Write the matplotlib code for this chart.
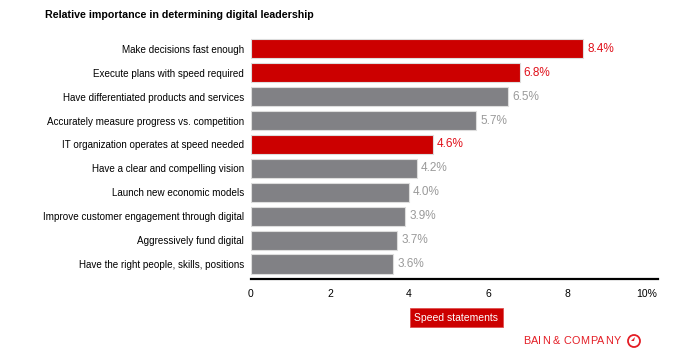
import matplotlib.pyplot as plt
from matplotlib.patches import Ellipse, Polygon

plt.rcParams['font.family'] = ['Liberation Sans', 'DejaVu Sans']

# Daten
labels = ['Make decisions fast enough',
          'Execute plans with speed required',
          'Have differentiated products and services',
          'Accurately measure progress vs. competition',
          'IT organization operates at speed needed',
          'Have a clear and compelling vision',
          'Launch new economic models',
          'Improve customer engagement through digital',
          'Aggressively fund digital',
          'Have the right people, skills, positions']
values = [8.4, 6.8, 6.5, 5.7, 4.6, 4.2, 4.0, 3.9, 3.7, 3.6]
speed = [True, True, False, False, True, False, False, False, False, False]
ticks = [0, 2, 4, 6, 8, 10]
tick_labels = ['0', '2', '4', '6', '8', '10%']

red = '#cc0000'
gray = '#818185'
logo_red = '#e41e26'

fig = plt.figure(figsize=(6.8, 3.55), dpi=100)
ax = fig.add_axes([0.369, 0.214, 0.599, 0.682])

ypos = list(range(len(values)))
colors = [red if s else gray for s in speed]
ax.barh(ypos, values, height=0.8, color=colors, edgecolor='#dddddd', linewidth=0.8)

for y, v, s in zip(ypos, values, speed):
    ax.text(v + 0.1, y, f'{v:.1f}%', va='center', ha='left', fontsize=8.5,
            color='#e0101a' if s else '#9a9a9a')

ax.set_ylim(9.63, -0.5)
ax.set_xlim(0, 10.3)
ax.set_yticks(ypos)
ax.set_yticklabels(labels, fontsize=7.1)
ax.set_xticks(ticks)
ax.set_xticklabels(tick_labels, fontsize=7.5)
ax.tick_params(axis='y', length=0, pad=5)
ax.tick_params(axis='x', length=0, pad=7)
for side in ['top', 'right', 'left']:
    ax.spines[side].set_visible(False)
ax.spines['bottom'].set_linewidth(1.6)

fig.text(0.066, 0.958, 'Relative importance in determining digital leadership',
         fontsize=7.7, fontweight='bold', va='center', ha='left')

# Legende
fig.text(0.671, 0.105, 'Speed statements', fontsize=7.5, color='white',
         ha='center', va='center',
         bbox=dict(boxstyle='square,pad=0.45', facecolor=red, edgecolor='#e05050', linewidth=0.6))

# Logo: Buchstaben einzeln setzen, damit der Abstand stimmt
logo = 'BAIN & COMPANY'
renderer = fig.canvas.get_renderer()
x = 523
for ch in logo:
    t = fig.text(x / 680, 1 - 341 / 355, ch, fontsize=7.8, color=logo_red,
                 ha='left', va='center', fontweight='medium')
    w = t.get_window_extent(renderer).width if ch != ' ' else 2.5
    x += w + 0.4
cx, cy = 634 / 680, 1 - 341 / 355
fig.patches.append(Ellipse((cx, cy), 12 / 680, 12 / 355, transform=fig.transFigure,
                           facecolor='none', edgecolor=logo_red, linewidth=1.3, figure=fig))
fig.patches.append(Polygon([(cx, cy), (cx + 1 / 680, cy + 4 / 355), (cx - 3 / 680, cy)],
                           closed=True, transform=fig.transFigure,
                           facecolor=logo_red, edgecolor='none', figure=fig))

fig.savefig('out.png', dpi=100, facecolor='white')
